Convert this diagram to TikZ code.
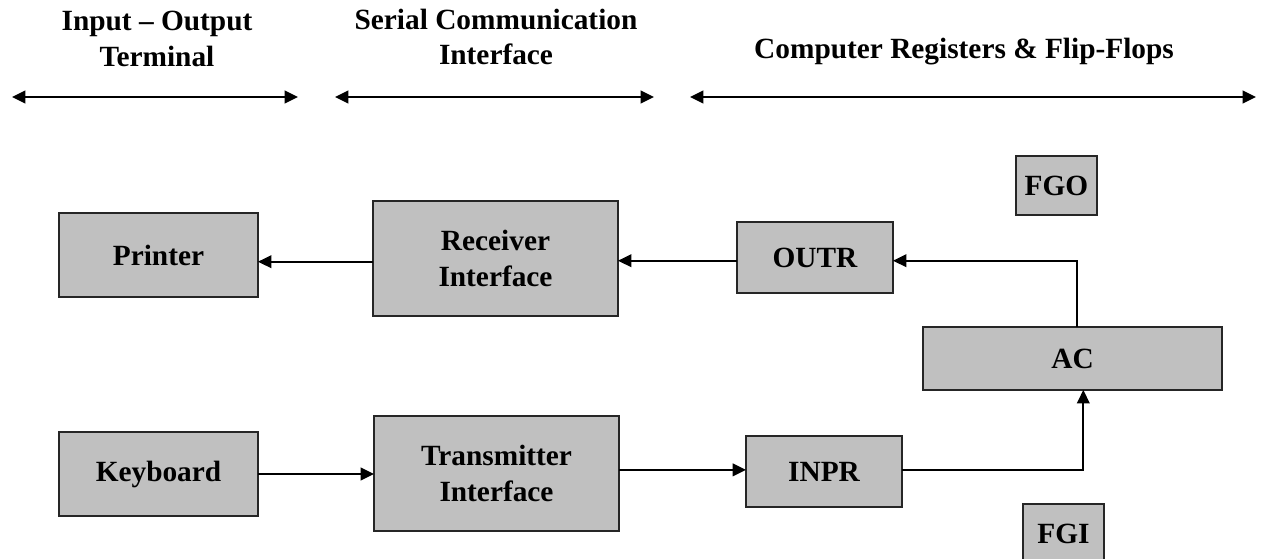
\documentclass[tikz,border=0pt]{standalone}
\usepackage{fontspec}
\setmainfont{Liberation Serif}
\usetikzlibrary{arrows.meta}
\definecolor{boxfill}{HTML}{C0C0C0}
\definecolor{boxline}{HTML}{262626}
\begin{document}
\begin{tikzpicture}[x=0.75pt,y=-0.75pt,
  lbl/.style={font=\bfseries\fontsize{22}{26.5}\selectfont},
  blk/.style={lbl,draw=boxline,fill=boxfill,line width=1.3pt,inner sep=0pt,outer sep=0pt,align=center},
  hdr/.style={lbl,align=center,inner sep=0pt},
  tip/.tip={Triangle[length=10pt,width=9.5pt]},
  link/.style={line width=1.3pt,-tip},
  span/.style={line width=1.3pt,tip-tip}]
\path[use as bounding box] (0,0) rectangle (1262,559);
\begin{scope}
\clip (0,0) rectangle (1262,559);

% section headings with their extent arrows
\node[hdr] (h1) at (157,39) {Input – Output\\Terminal};
\node[hdr] (h2) at (496,37) {Serial Communication\\Interface};
\node[hdr] (h3) at (964,52) {Computer Registers \& Flip-Flops};
\coordinate (s1a) at (12,97);  \coordinate (s1b) at (298,97);
\coordinate (s2a) at (335,97); \coordinate (s2b) at (654,97);
\coordinate (s3a) at (690,97); \coordinate (s3b) at (1256,97);
\draw[span] (s1a) -- (s1b);
\draw[span] (s2a) -- (s2b);
\draw[span] (s3a) -- (s3b);

% blocks
\node[blk,minimum width=149.25pt,minimum height=63pt] (printer) at (158.5,255) {Printer};
\node[blk,minimum width=183.75pt,minimum height=86.25pt] (receiver) at (495.5,258.5) {Receiver\\Interface};
\node[blk,minimum width=117pt,minimum height=53.25pt] (outr) at (815,257.5) {OUTR};
\node[blk,minimum width=60.75pt,minimum height=44.25pt] (fgo) at (1056.5,185.5) {FGO};
\node[blk,minimum width=224.25pt,minimum height=47.25pt] (ac) at (1072.5,358.5) {AC};
\node[blk,minimum width=149.25pt,minimum height=63pt] (keyboard) at (158.5,474) {Keyboard};
\node[blk,minimum width=183.75pt,minimum height=86.25pt] (transmitter) at (496.5,473.5) {Transmitter\\Interface};
\node[blk,minimum width=117pt,minimum height=53.25pt] (inpr) at (824,471.5) {INPR};
\node[blk,minimum width=60.75pt,minimum height=44.25pt] (fgi) at (1063.5,533.5) {FGI};

% output path
\draw[link] ([yshift=-2.4pt]receiver.west) -- ([yshift=-2.4pt]receiver.west -| printer.east);
\draw[link] ([yshift=-2.4pt]outr.west) -- ([yshift=-2.4pt]outr.west -| receiver.east);
\draw[link] ([xshift=3.6pt]ac.north) |- ([yshift=-2.4pt]outr.east);

% input path
\draw[link] (keyboard.east) -- (keyboard.east -| transmitter.west);
\draw[link] ([yshift=1.2pt]inpr.west -| transmitter.east) -- ([yshift=1.2pt]inpr.west);
\draw[link] ([yshift=1.2pt]inpr.east) -| ([xshift=8.1pt]ac.south);
\end{scope}
\end{tikzpicture}
\end{document}
